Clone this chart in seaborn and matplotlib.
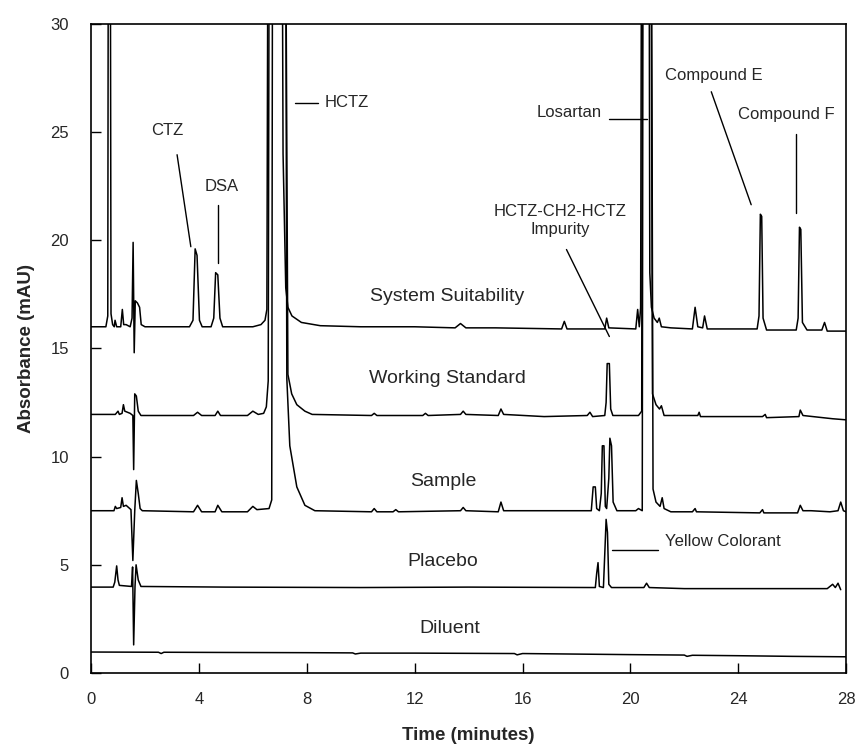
import numpy as np
import pandas as pd
import matplotlib
matplotlib.use('Agg')
import matplotlib.pyplot as plt
import seaborn as sns

# ---- data: chromatogram traces as (time in min, absorbance in mAU) points ----
# off-scale peaks are given a top value of 45 and get clipped by the axes
system_suitability = [
    (0, 16.0), (0.55, 16.0), (0.62, 16.5), (0.65, 45), (0.70, 45), (0.74, 16.6),
    (0.80, 16.1), (0.86, 16.0), (0.89, 16.3), (0.95, 16.0), (1.10, 16.0), (1.16, 16.8),
    (1.21, 16.1), (1.30, 16.1), (1.45, 16.0), (1.52, 16.4), (1.56, 19.9), (1.60, 14.8),
    (1.64, 17.2), (1.72, 17.1), (1.80, 16.9), (1.86, 16.1), (2.0, 16.0), (3.0, 16.0),
    (3.65, 16.0), (3.78, 16.3), (3.86, 19.6), (3.93, 19.3), (4.02, 16.3), (4.12, 16.0),
    (4.45, 16.0), (4.55, 16.4), (4.62, 18.5), (4.70, 18.4), (4.78, 16.4), (4.88, 16.0),
    (6.0, 16.0), (6.3, 16.1), (6.45, 16.3), (6.52, 16.8), (6.58, 45), (7.06, 45),
    (7.12, 24.0), (7.22, 17.8), (7.30, 16.9), (7.45, 16.5), (7.8, 16.2), (8.5, 16.05),
    (10.0, 16.0), (12.0, 16.0), (13.5, 15.95), (13.7, 16.15), (13.9, 15.95), (15.0, 15.95),
    (17.45, 15.9), (17.55, 16.25), (17.65, 15.9), (19.05, 15.9), (19.12, 16.4), (19.2, 15.95),
    (20.2, 15.9), (20.27, 16.8), (20.33, 16.0), (20.38, 16.9), (20.43, 45), (20.68, 45),
    (20.72, 18.5), (20.78, 16.9), (20.88, 16.4), (21.0, 16.2), (21.07, 16.4), (21.15, 16.0),
    (21.5, 15.95), (22.3, 15.9), (22.4, 16.9), (22.5, 16.0), (22.68, 15.95), (22.75, 16.5),
    (22.85, 15.9), (23.5, 15.9), (24.7, 15.9), (24.77, 16.5), (24.82, 21.2), (24.87, 21.1),
    (24.92, 16.4), (25.05, 15.85), (26.15, 15.85), (26.22, 16.4), (26.27, 20.6), (26.32, 20.5),
    (26.38, 16.2), (26.55, 15.85), (27.1, 15.85), (27.2, 16.2), (27.3, 15.8), (28.0, 15.8),
]

working_standard = [
    (0, 11.95), (0.9, 11.95), (1.0, 12.1), (1.05, 11.95), (1.15, 12.0), (1.2, 12.4),
    (1.25, 12.1), (1.45, 12.0), (1.55, 11.9), (1.58, 9.4), (1.62, 12.9), (1.68, 12.8),
    (1.75, 12.1), (1.85, 11.9), (3.8, 11.9), (3.95, 12.05), (4.1, 11.9), (4.6, 11.9),
    (4.7, 12.1), (4.8, 11.9), (5.8, 11.9), (6.0, 12.1), (6.2, 11.95), (6.4, 12.0),
    (6.5, 12.3), (6.57, 13.5), (6.62, 45), (7.18, 45), (7.3, 13.8), (7.44, 12.9),
    (7.63, 12.4), (7.93, 12.1), (8.2, 11.95), (10.4, 11.9), (10.5, 12.0), (10.6, 11.9),
    (12.3, 11.9), (12.4, 12.0), (12.5, 11.9), (13.7, 11.95), (13.8, 12.1), (13.9, 11.95),
    (15.1, 11.9), (15.2, 12.2), (15.3, 11.95), (16.8, 11.85), (18.4, 11.9), (18.5, 12.05),
    (18.6, 11.85), (19.05, 11.9), (19.1, 12.5), (19.14, 14.3), (19.22, 14.3), (19.27, 12.2),
    (19.35, 11.9), (20.3, 11.9), (20.42, 12.1), (20.46, 45), (20.74, 45), (20.82, 12.9),
    (20.95, 12.4), (21.08, 12.2), (21.15, 12.35), (21.25, 11.9), (22.5, 11.9), (22.55, 12.05),
    (22.6, 11.85), (24.9, 11.85), (25.0, 11.95), (25.05, 11.8), (26.25, 11.85), (26.3, 12.15),
    (26.4, 11.9), (27.5, 11.75), (28.0, 11.7),
]

sample = [
    (0, 7.5), (0.85, 7.5), (0.9, 7.7), (0.95, 7.6), (1.1, 7.65), (1.15, 8.1),
    (1.2, 7.7), (1.3, 7.75), (1.48, 7.55), (1.55, 5.2), (1.62, 7.5), (1.68, 8.9),
    (1.75, 8.3), (1.82, 7.6), (1.9, 7.5), (3.8, 7.45), (3.95, 7.75), (4.1, 7.45),
    (4.6, 7.45), (4.7, 7.75), (4.85, 7.45), (5.8, 7.45), (6.0, 7.7), (6.15, 7.55),
    (6.6, 7.6), (6.7, 8.0), (6.74, 45), (7.2, 45), (7.26, 13.6), (7.37, 10.5),
    (7.63, 8.6), (7.93, 7.75), (8.3, 7.5), (10.4, 7.45), (10.5, 7.6), (10.6, 7.45),
    (11.2, 7.45), (11.3, 7.55), (11.4, 7.45), (13.7, 7.5), (13.8, 7.65), (13.9, 7.5),
    (15.1, 7.45), (15.2, 7.9), (15.3, 7.5), (18.55, 7.5), (18.62, 8.6), (18.7, 8.6),
    (18.75, 7.6), (18.85, 7.5), (18.92, 8.3), (18.96, 10.5), (19.02, 10.5), (19.07, 7.7),
    (19.12, 7.6), (19.2, 9.0), (19.24, 10.85), (19.3, 10.5), (19.36, 7.9), (19.5, 7.5),
    (20.2, 7.5), (20.3, 7.6), (20.44, 7.5), (20.48, 45), (20.76, 45), (20.84, 8.5),
    (20.95, 7.9), (21.1, 7.7), (21.18, 8.1), (21.25, 7.6), (21.5, 7.45), (22.3, 7.45),
    (22.4, 7.6), (22.45, 7.45), (24.8, 7.4), (24.9, 7.55), (24.95, 7.4), (26.2, 7.4),
    (26.3, 7.75), (26.4, 7.5), (26.7, 7.5), (27.4, 7.45), (27.7, 7.5), (27.8, 7.9),
    (27.9, 7.5), (28.0, 7.45),
]

placebo = [
    (0, 3.97), (0.82, 3.97), (0.88, 4.2), (0.95, 4.95), (1.0, 4.3), (1.05, 4.05),
    (1.5, 4.0), (1.54, 4.9), (1.58, 1.3), (1.63, 4.0), (1.67, 5.0), (1.75, 4.3),
    (1.85, 4.0), (5.0, 3.97), (10.0, 3.95), (14.0, 3.97), (18.7, 3.95), (18.75, 4.6),
    (18.8, 5.1), (18.85, 4.0), (19.0, 3.95), (19.05, 5.5), (19.1, 7.1), (19.15, 6.5),
    (19.2, 4.1), (19.3, 3.95), (20.5, 3.95), (20.6, 4.15), (20.7, 3.95), (22.0, 3.9),
    (25.0, 3.9), (27.3, 3.9), (27.5, 4.1), (27.6, 3.95), (27.7, 4.15), (27.8, 3.85),
]

diluent = [
    (0, 0.97), (2.5, 0.96), (2.6, 0.9), (2.7, 0.96), (5.0, 0.95), (8.0, 0.94),
    (9.7, 0.93), (9.8, 0.88), (10.0, 0.92), (12.0, 0.92), (15.7, 0.9), (15.8, 0.84),
    (16.0, 0.9), (20.0, 0.85), (22.0, 0.83), (22.1, 0.77), (22.3, 0.82), (24.0, 0.8),
    (26.0, 0.77), (28.0, 0.75),
]

trace_names = ['System Suitability', 'Working Standard', 'Sample', 'Placebo', 'Diluent']
trace_points = [system_suitability, working_standard, sample, placebo, diluent]
trace_label_x = [13.2, 13.2, 13.05, 13.05, 13.3]
trace_label_y = [17.4, 13.6, 8.85, 5.15, 2.05]

# ---- peak annotations ----
peak_labels = ['CTZ', 'DSA', 'HCTZ', 'Losartan', 'HCTZ-CH2-HCTZ', 'Impurity',
               'Compound E', 'Compound F', 'Yellow Colorant']
peak_label_x = [2.81, 4.85, 8.67, 18.95, 17.4, 17.4, 23.1, 25.77, 21.3]
peak_label_y = [25.06, 22.47, 26.35, 25.9, 21.32, 20.49, 27.6, 25.8, 6.1]
peak_label_ha = ['center', 'center', 'left', 'right', 'center', 'center', 'center', 'center', 'left']
leader_x = [(3.19, 3.70), (4.70, 4.70), (7.56, 8.41), (19.2, 20.6),
            (17.63, 19.22), (23.0, 24.48), (26.15, 26.15), (19.33, 21.04)]
leader_y = [(23.95, 19.7), (21.64, 18.97), (26.35, 26.35), (25.6, 25.6),
            (19.57, 15.55), (26.86, 21.64), (24.9, 21.27), (5.68, 5.68)]

'''
    ---------------------------------
    build long table
    ---------------------------------
'''
rows = []
for name, pts in zip(trace_names, trace_points):
    for t, a in pts:
        rows.append({'trace': name, 'time': t, 'absorbance': a})
df = pd.DataFrame(rows)

'''
    ---------------------------------
    plot
    ---------------------------------
'''
sns.set_style('ticks')
plt.rcParams['font.family'] = ['Liberation Sans', 'DejaVu Sans']

fig = plt.figure(figsize=(8.59, 7.44), dpi=100)
ax = fig.add_axes([0.106, 0.0954, 0.879, 0.8726])

sns.lineplot(data=df, x='time', y='absorbance', units='trace', estimator=None,
             sort=False, color='black', linewidth=1.1, ax=ax, legend=False)

ax.set_xlim(0, 28)
ax.set_ylim(0, 30)
ax.set_xticks(np.arange(0, 29, 4))
ax.set_yticks(np.arange(0, 31, 5))
ax.tick_params(direction='in', length=7, width=1, labelsize=12, color='black',
               top=False, right=False)
ax.tick_params(axis='x', pad=14)
ax.tick_params(axis='y', pad=16)
for s in ax.spines.values():
    s.set_visible(True)
    s.set_color('black')
    s.set_linewidth(1.2)

ax.set_xlabel('Time (minutes)', fontsize=13.5, fontweight='bold', labelpad=14)
ax.set_ylabel('Absorbance (mAU)', fontsize=13.5, fontweight='bold', labelpad=11)

for name, x, y in zip(trace_names, trace_label_x, trace_label_y):
    ax.text(x, y, name, fontsize=14, ha='center', va='center')

for lab, x, y, ha in zip(peak_labels, peak_label_x, peak_label_y, peak_label_ha):
    ax.text(x, y, lab, fontsize=12, ha=ha, va='center')

for xs, ys in zip(leader_x, leader_y):
    ax.plot(xs, ys, color='black', linewidth=1.0)

plt.savefig('out.png', dpi=100)
